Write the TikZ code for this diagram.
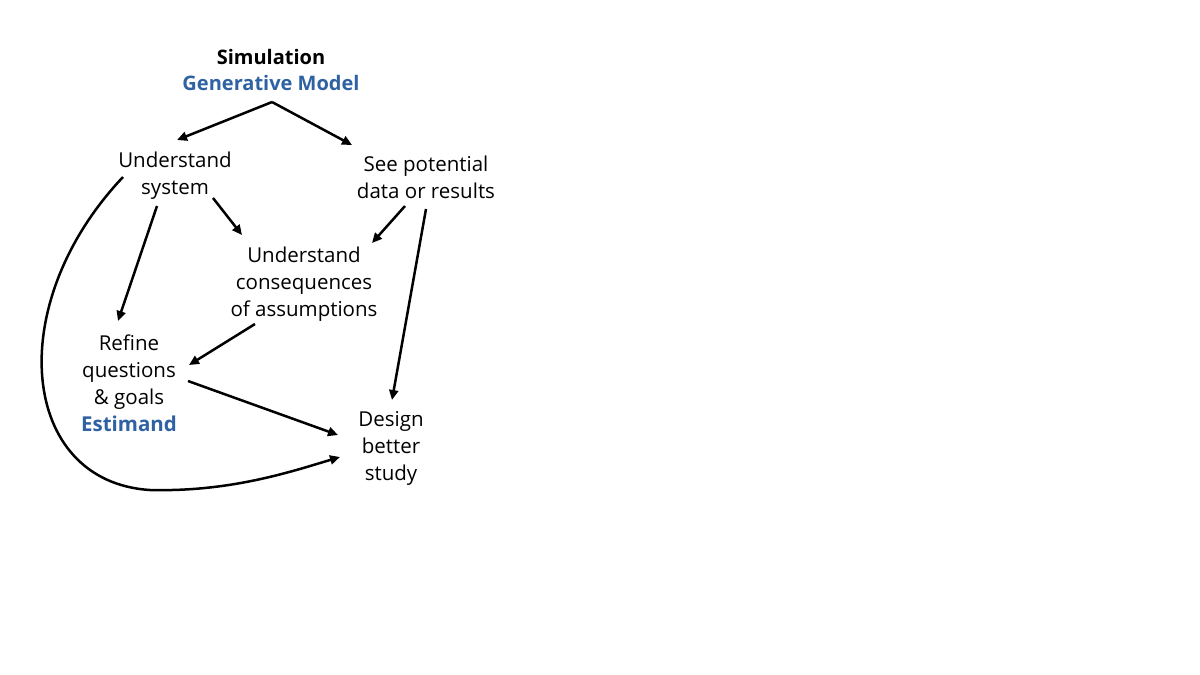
\documentclass[tikz,border=0pt]{standalone}
\usepackage{fontspec}
\setmainfont{Open Sans}
\usepackage{xcolor}
\definecolor{estblue}{HTML}{2E62A2}
\usepackage{tikz}
\usetikzlibrary{arrows.meta,calc}
\tikzset{
  >={Triangle[length=10pt,width=9pt]},
  txt/.style  ={font=\fontsize{20.5}{27}\selectfont,align=center,inner sep=0pt},
  hd/.style   ={font=\fontsize{20}{26}\selectfont\bfseries,align=center,inner sep=0pt},
  arr/.style  ={->,draw=black,line width=2.5pt},
}

\begin{document}
\begin{tikzpicture}[x=1pt,y=-1pt]
\useasboundingbox (0,0) rectangle (1200,675);
% nodes
\node[hd] (sim) at (271,70) {Simulation\\ \textcolor{estblue}{Generative Model}};
\node[txt] (us) at (175,176) {Understand\\ system};
\node[txt] (sp) at (426,177) {See potential\\ data or results};
\node[txt] (uc) at (304,284) {Understand\\ consequences\\ of assumptions};
\node[txt] (rq) at (129,383) {Refine\\ questions\\ \& goals\\ \textbf{\textcolor{estblue}{Estimand}}};
\node[txt] (ds) at (391,448) {Design\\ better\\ study};
% arrows
\draw[arr] ($(sim)+(1,32)$) -- ($(us)+(2,-36)$);
\draw[arr] ($(sim)+(1,32)$) -- ($(sp)+(-74,-32)$);
\draw[arr] ($(us)+(-18,30)$) -- ($(rq)+(-11,-62)$);
\draw[arr] ($(us)+(38,22)$) -- ($(uc)+(-62,-49)$);
\draw[arr] ($(sp)+(-21,29)$) -- ($(uc)+(68,-41)$);
\draw[arr] ($(sp)+(0,32)$) -- ($(ds)+(1,-48)$);
\draw[arr] ($(uc)+(-49,40)$) -- ($(rq)+(60,-18)$);
\draw[arr] ($(rq)+(59,-2)$) -- ($(ds)+(-53,-13)$);
% long way round
\draw[arr] ($(us)+(-52,1)$) .. controls (2,305) and (20,482) .. (150,490)
  .. controls (230,492) and (290,472) .. ($(ds)+(-51,9)$);
\end{tikzpicture}
\end{document}
